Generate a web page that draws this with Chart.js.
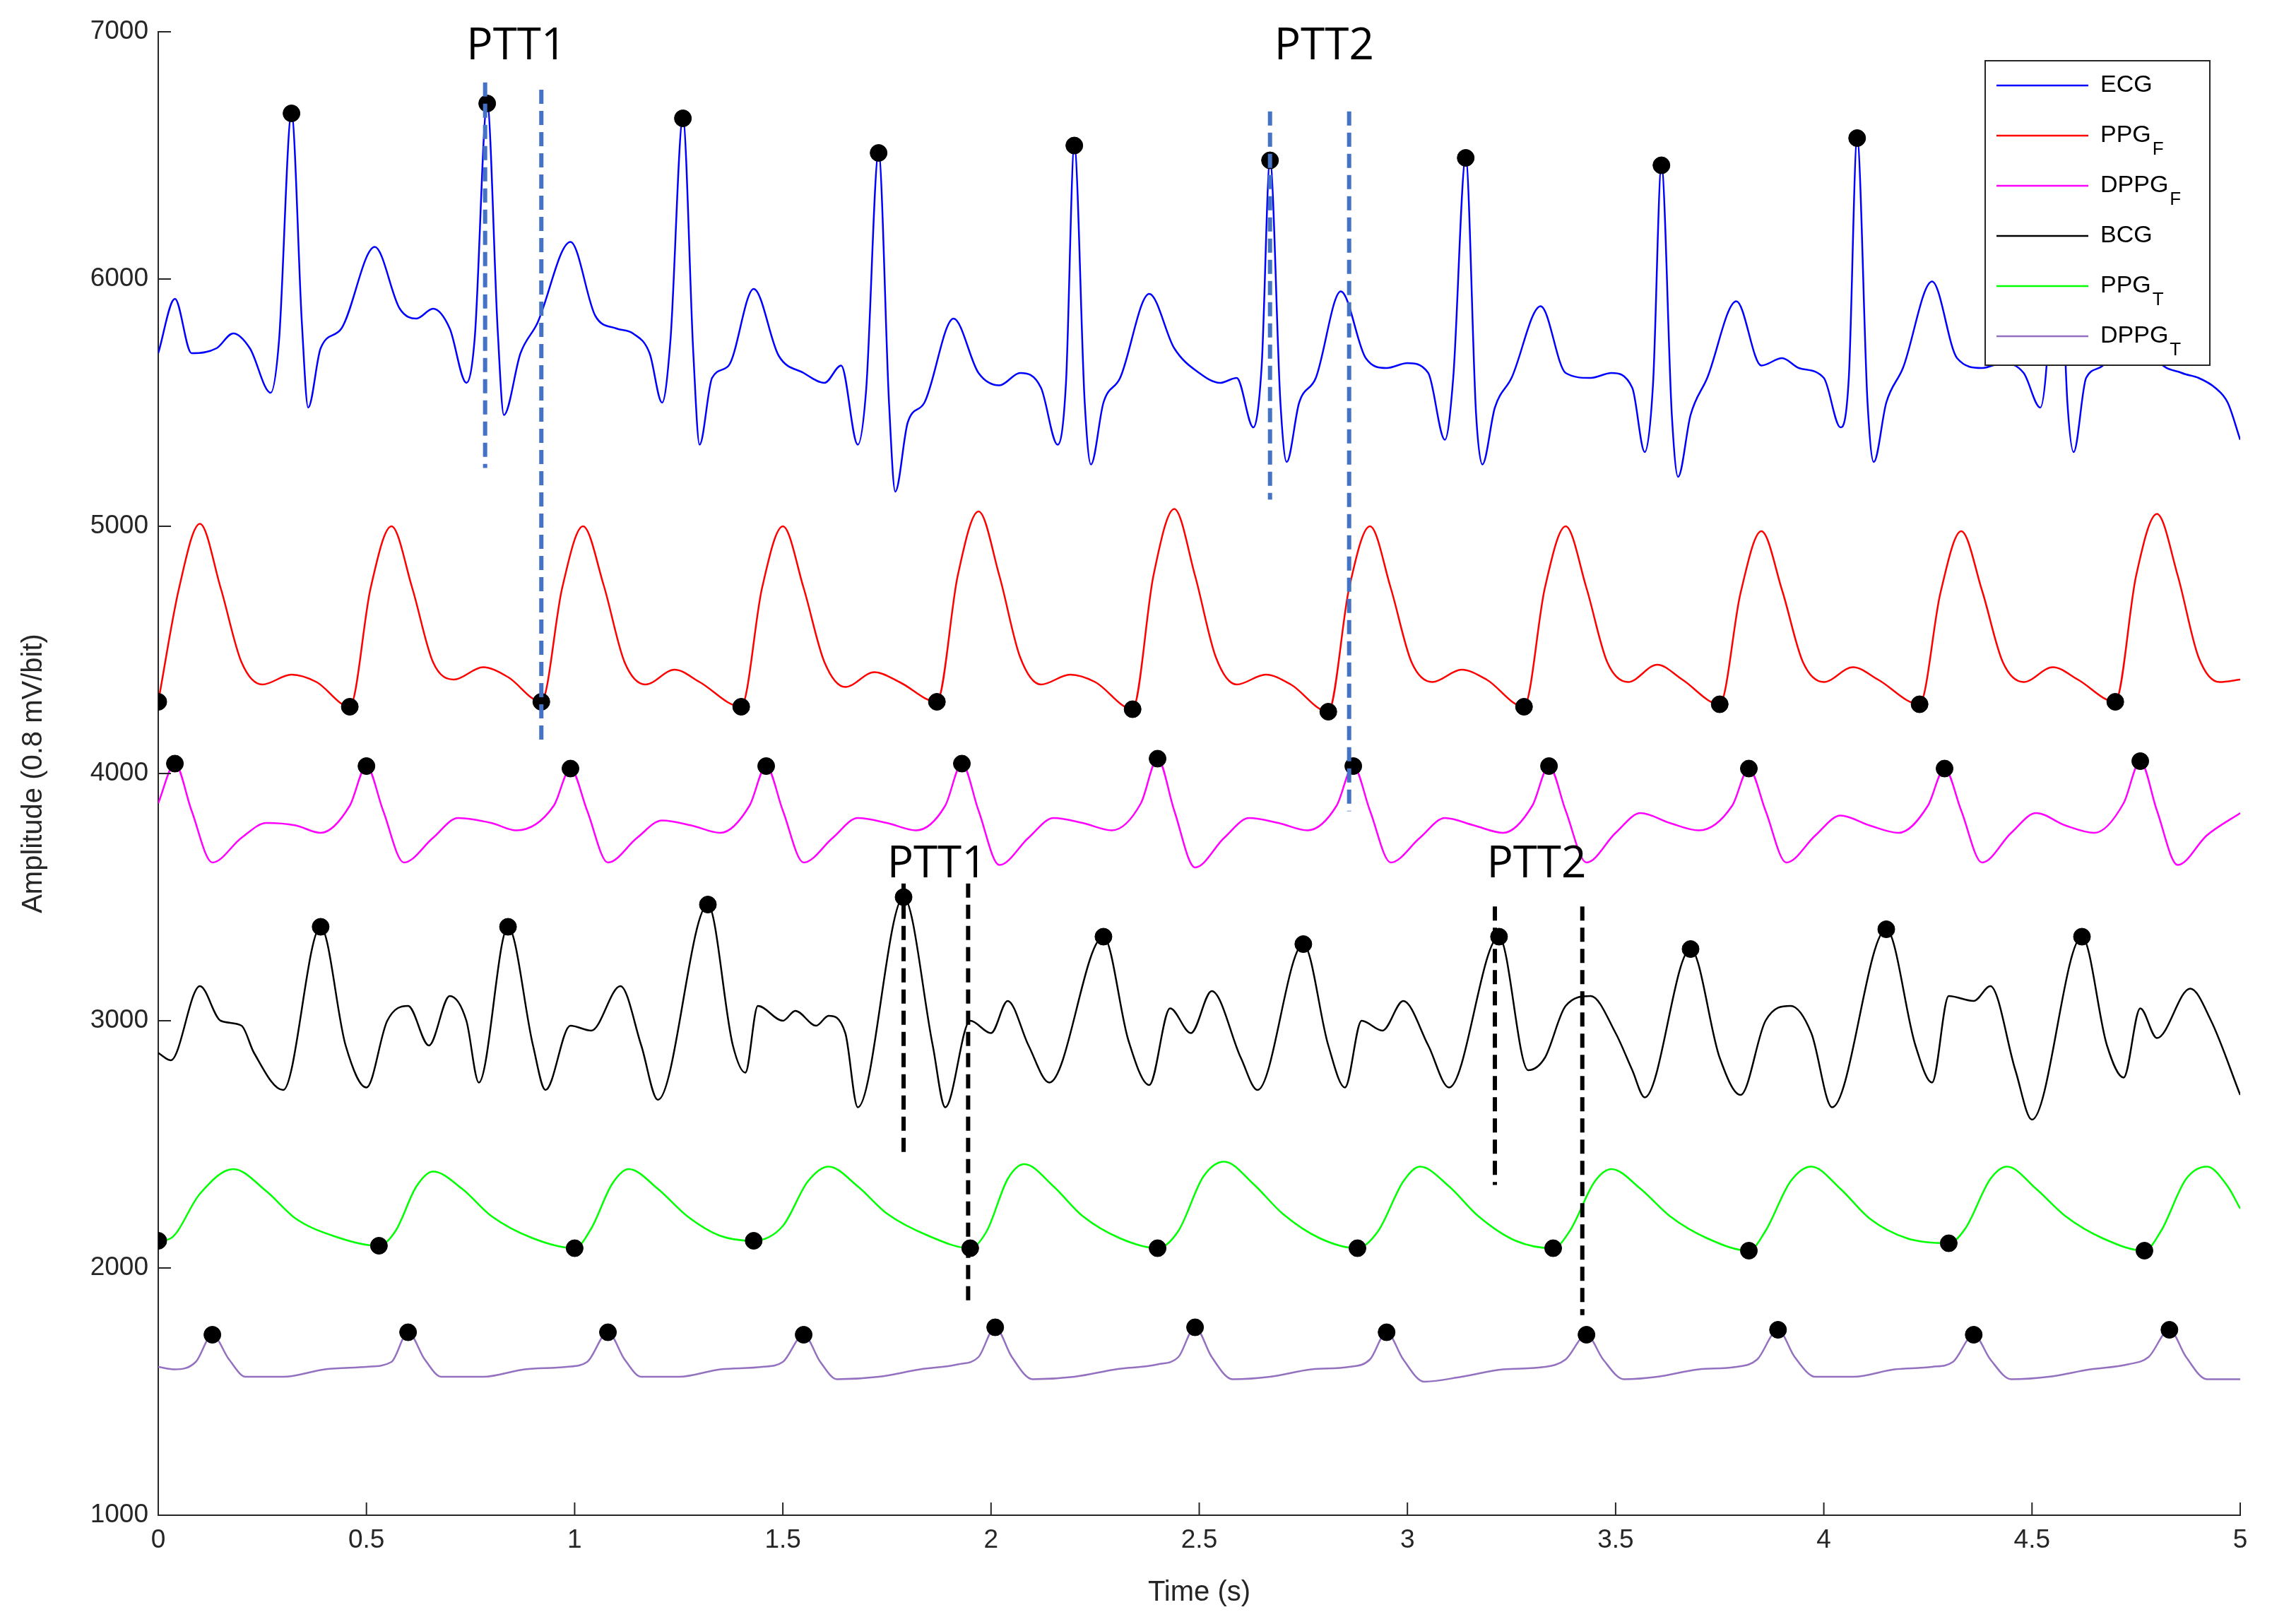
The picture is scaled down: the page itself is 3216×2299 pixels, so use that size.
<!DOCTYPE html>
<html><head><meta charset="utf-8">
<script src="https://cdn.jsdelivr.net/npm/chart.js@4/dist/chart.umd.min.js"></script>
<style>html,body{margin:0;padding:0;background:#fff}canvas{display:block}</style>
</head><body>
<canvas id="c" width="3216" height="2299"></canvas>
<script>
const xTicks=[0,0.5,1,1.5,2,2.5,3,3.5,4,4.5,5];
const xTickLabels=["0","0.5","1","1.5","2","2.5","3","3.5","4","4.5","5"];
const yTicks=[1000,2000,3000,4000,5000,6000,7000];
const yTickLabels=["1000","2000","3000","4000","5000","6000","7000"];
const ecg=[[0,5700],[0.04,5920],[0.08,5700],[0.14,5720],[0.18,5780],[0.22,5720],[0.27,5540],[0.29,5750],[0.32,6670],[0.345,5820],[0.36,5480],[0.39,5720],[0.44,5800],[0.52,6130],[0.58,5880],[0.62,5840],[0.66,5880],[0.70,5800],[0.74,5580],[0.76,5760],[0.79,6710],[0.815,5800],[0.83,5450],[0.87,5700],[0.91,5820],[0.99,6150],[1.05,5850],[1.10,5800],[1.14,5780],[1.18,5700],[1.21,5500],[1.23,5750],[1.26,6650],[1.285,5700],[1.30,5330],[1.33,5600],[1.37,5650],[1.43,5960],[1.49,5690],[1.55,5620],[1.60,5580],[1.64,5650],[1.68,5330],[1.70,5550],[1.73,6510],[1.755,5500],[1.77,5140],[1.80,5420],[1.84,5500],[1.91,5840],[1.97,5620],[2.02,5570],[2.07,5620],[2.12,5560],[2.16,5330],[2.18,5580],[2.20,6540],[2.225,5500],[2.24,5250],[2.27,5500],[2.31,5600],[2.38,5940],[2.44,5720],[2.50,5620],[2.55,5580],[2.59,5600],[2.63,5400],[2.65,5650],[2.67,6480],[2.695,5500],[2.71,5260],[2.74,5500],[2.78,5600],[2.84,5950],[2.9,5680],[2.95,5640],[3.0,5660],[3.05,5620],[3.09,5350],[3.11,5600],[3.14,6490],[3.165,5450],[3.18,5250],[3.21,5480],[3.25,5600],[3.32,5890],[3.38,5620],[3.44,5600],[3.49,5620],[3.54,5560],[3.57,5300],[3.59,5580],[3.61,6460],[3.635,5450],[3.65,5200],[3.68,5450],[3.72,5600],[3.79,5910],[3.85,5650],[3.9,5680],[3.94,5640],[4.0,5600],[4.04,5400],[4.06,5600],[4.08,6570],[4.105,5500],[4.12,5260],[4.15,5500],[4.19,5640],[4.26,5990],[4.32,5680],[4.38,5640],[4.43,5660],[4.48,5620],[4.52,5480],[4.535,5650],[4.56,6450],[4.585,5500],[4.60,5300],[4.63,5600],[4.67,5650],[4.74,5950],[4.8,5680],[4.86,5620],[4.9,5600],[4.94,5560],[4.97,5500],[5.0,5350]];
const ecgDots=[[0.32,6670],[0.79,6710],[1.26,6650],[1.73,6510],[2.2,6540],[2.67,6480],[3.14,6490],[3.61,6460],[4.08,6570]];
const ppgF=[[0,4290],[0.05,4750],[0.1,5010],[0.15,4750],[0.2,4450],[0.25,4360],[0.32,4400],[0.38,4370],[0.46,4270],[0.51,4750],[0.56,5000],[0.61,4750],[0.66,4450],[0.71,4380],[0.78,4430],[0.84,4390],[0.92,4290],[0.97,4750],[1.02,5000],[1.07,4760],[1.12,4450],[1.17,4360],[1.24,4420],[1.30,4370],[1.40,4270],[1.45,4750],[1.50,5000],[1.55,4750],[1.60,4450],[1.65,4350],[1.72,4410],[1.78,4370],[1.87,4290],[1.92,4800],[1.97,5060],[2.02,4800],[2.07,4470],[2.12,4360],[2.19,4400],[2.25,4370],[2.34,4260],[2.39,4800],[2.44,5070],[2.49,4800],[2.54,4470],[2.59,4360],[2.66,4400],[2.72,4360],[2.81,4250],[2.86,4750],[2.91,5000],[2.96,4750],[3.01,4450],[3.06,4370],[3.13,4420],[3.19,4380],[3.28,4270],[3.33,4750],[3.38,5000],[3.43,4750],[3.48,4450],[3.53,4370],[3.60,4440],[3.66,4380],[3.75,4280],[3.80,4730],[3.85,4980],[3.90,4740],[3.95,4450],[4.0,4370],[4.07,4430],[4.13,4380],[4.23,4280],[4.28,4730],[4.33,4980],[4.38,4740],[4.43,4450],[4.48,4370],[4.55,4430],[4.61,4380],[4.70,4290],[4.75,4800],[4.80,5050],[4.85,4800],[4.90,4470],[4.95,4370],[5.0,4380]];
const ppgFDots=[[0,4290],[0.46,4270],[0.92,4290],[1.4,4270],[1.87,4290],[2.34,4260],[2.81,4250],[3.28,4270],[3.75,4280],[4.23,4280],[4.7,4290]];
const dppgF=[[0,3880],[0.04,4040],[0.08,3850],[0.13,3640],[0.2,3740],[0.26,3800],[0.33,3790],[0.39,3760],[0.46,3870],[0.5,4030],[0.54,3850],[0.59,3640],[0.66,3740],[0.72,3820],[0.8,3800],[0.86,3770],[0.95,3870],[0.99,4020],[1.03,3850],[1.08,3640],[1.15,3740],[1.21,3810],[1.28,3790],[1.35,3760],[1.42,3870],[1.46,4030],[1.5,3850],[1.55,3640],[1.62,3740],[1.68,3820],[1.75,3800],[1.82,3770],[1.89,3870],[1.93,4040],[1.97,3850],[2.02,3630],[2.09,3740],[2.15,3820],[2.22,3800],[2.29,3770],[2.36,3880],[2.4,4060],[2.44,3850],[2.49,3620],[2.56,3740],[2.62,3820],[2.69,3800],[2.76,3770],[2.83,3870],[2.87,4030],[2.91,3850],[2.96,3640],[3.03,3740],[3.09,3820],[3.16,3790],[3.23,3760],[3.3,3870],[3.34,4030],[3.38,3850],[3.43,3640],[3.5,3760],[3.56,3840],[3.63,3800],[3.7,3770],[3.78,3870],[3.82,4020],[3.86,3850],[3.91,3640],[3.98,3750],[4.04,3830],[4.11,3790],[4.18,3760],[4.25,3870],[4.29,4020],[4.33,3850],[4.38,3640],[4.45,3760],[4.51,3840],[4.58,3790],[4.65,3760],[4.72,3880],[4.76,4050],[4.8,3850],[4.85,3630],[4.92,3750],[5.0,3840]];
const dppgFDots=[[0.04,4040],[0.5,4030],[0.99,4020],[1.46,4030],[1.93,4040],[2.4,4060],[2.87,4030],[3.34,4030],[3.82,4020],[4.29,4020],[4.76,4050]];
const bcg=[[0,2870],[0.03,2840],[0.1,3140],[0.15,3000],[0.2,2980],[0.23,2870],[0.3,2720],[0.39,3380],[0.45,2900],[0.5,2730],[0.55,3000],[0.6,3060],[0.65,2900],[0.7,3100],[0.74,3000],[0.77,2750],[0.84,3380],[0.9,2900],[0.93,2720],[0.99,2980],[1.04,2960],[1.11,3140],[1.16,2900],[1.2,2680],[1.32,3470],[1.38,2900],[1.41,2790],[1.44,3060],[1.5,3000],[1.53,3040],[1.58,2980],[1.61,3020],[1.65,2950],[1.68,2650],[1.79,3500],[1.86,2900],[1.89,2650],[1.95,3000],[2.0,2950],[2.04,3080],[2.09,2900],[2.14,2750],[2.27,3340],[2.33,2920],[2.38,2740],[2.43,3050],[2.48,2950],[2.53,3120],[2.6,2850],[2.64,2720],[2.75,3310],[2.81,2900],[2.85,2730],[2.89,3000],[2.94,2960],[2.99,3080],[3.05,2900],[3.1,2730],[3.22,3340],[3.29,2800],[3.33,2850],[3.38,3060],[3.44,3100],[3.5,2950],[3.54,2800],[3.57,2690],[3.68,3290],[3.75,2850],[3.8,2700],[3.86,3000],[3.92,3060],[3.97,2950],[4.02,2650],[4.15,3370],[4.22,2900],[4.26,2750],[4.3,3100],[4.36,3080],[4.4,3140],[4.46,2800],[4.5,2600],[4.62,3340],[4.68,2900],[4.72,2770],[4.76,3050],[4.8,2930],[4.88,3130],[4.93,3000],[5.0,2700]];
const bcgDots=[[0.39,3380],[0.84,3380],[1.32,3470],[1.79,3500],[2.27,3340],[2.75,3310],[3.22,3340],[3.68,3290],[4.15,3370],[4.62,3340]];
const ppgT=[[0,2110],[0.03,2120],[0.1,2300],[0.18,2400],[0.26,2310],[0.33,2200],[0.42,2130],[0.53,2090],[0.57,2150],[0.62,2330],[0.66,2390],[0.73,2320],[0.8,2210],[0.9,2120],[1.0,2080],[1.04,2160],[1.09,2340],[1.13,2400],[1.2,2320],[1.27,2210],[1.35,2130],[1.43,2110],[1.5,2170],[1.56,2350],[1.61,2410],[1.68,2330],[1.75,2220],[1.85,2130],[1.95,2080],[1.99,2150],[2.04,2360],[2.08,2420],[2.15,2330],[2.22,2210],[2.31,2120],[2.4,2080],[2.45,2150],[2.51,2370],[2.56,2430],[2.63,2340],[2.7,2220],[2.79,2120],[2.88,2080],[2.93,2150],[2.99,2350],[3.03,2410],[3.1,2330],[3.17,2210],[3.26,2110],[3.35,2080],[3.39,2150],[3.45,2350],[3.49,2400],[3.56,2320],[3.63,2210],[3.72,2120],[3.82,2070],[3.86,2150],[3.92,2350],[3.97,2410],[4.04,2320],[4.11,2200],[4.2,2120],[4.3,2100],[4.34,2160],[4.4,2360],[4.44,2410],[4.51,2320],[4.58,2210],[4.67,2120],[4.77,2070],[4.81,2150],[4.87,2360],[4.92,2410],[4.97,2330],[5.0,2240]];
const ppgTDots=[[0,2110],[0.53,2090],[1.0,2080],[1.43,2110],[1.95,2080],[2.4,2080],[2.88,2080],[3.35,2080],[3.82,2070],[4.3,2100],[4.77,2070]];
const dppgT=[[0,1600],[0.04,1590],[0.09,1620],[0.13,1730],[0.17,1630],[0.21,1560],[0.3,1560],[0.4,1590],[0.5,1600],[0.56,1620],[0.6,1740],[0.64,1630],[0.68,1560],[0.78,1560],[0.88,1590],[0.98,1600],[1.03,1620],[1.08,1740],[1.12,1630],[1.16,1560],[1.25,1560],[1.35,1590],[1.45,1600],[1.5,1620],[1.55,1730],[1.59,1620],[1.63,1550],[1.73,1560],[1.83,1590],[1.92,1610],[1.97,1640],[2.01,1760],[2.05,1640],[2.1,1550],[2.2,1560],[2.3,1590],[2.4,1610],[2.45,1640],[2.49,1760],[2.53,1640],[2.58,1550],[2.67,1560],[2.77,1590],[2.86,1600],[2.91,1630],[2.95,1740],[2.99,1630],[3.04,1540],[3.13,1560],[3.23,1590],[3.33,1600],[3.38,1630],[3.43,1730],[3.47,1630],[3.52,1550],[3.6,1560],[3.7,1590],[3.79,1600],[3.84,1630],[3.89,1750],[3.93,1640],[3.98,1560],[4.07,1560],[4.17,1590],[4.26,1600],[4.31,1620],[4.36,1730],[4.4,1630],[4.45,1550],[4.54,1560],[4.64,1590],[4.73,1610],[4.78,1640],[4.83,1750],[4.87,1640],[4.92,1550],[5.0,1550]];
const dppgTDots=[[0.13,1730],[0.6,1740],[1.08,1740],[1.55,1730],[2.01,1760],[2.49,1760],[2.95,1740],[3.43,1730],[3.89,1750],[4.36,1730],[4.83,1750]];
const legendNames=[["ECG",""],["PPG","F"],["DPPG","F"],["BCG",""],["PPG","T"],["DPPG","T"]];
const colors=["#0000ff","#ff0000","#ff00ff","#000000","#00ff00","#9370c0"];
const pttBlue=[[0.785,6795,5236],[0.92,6766,4117],[2.67,6678,5108],[2.86,6678,3847]];
const pttBlack=[[1.79,3555,2442],[1.945,3555,1856],[3.21,3462,2336],[3.42,3462,1809]];
const pttLabels=[["PTT1",0.86,6960],["PTT2",2.8,6960],["PTT1",1.87,3650],["PTT2",3.31,3650]];

const toXY=a=>a.map(p=>({x:p[0],y:p[1]}));
const lines=[ecg,ppgF,dppgF,bcg,ppgT,dppgT];
const dots=[ecgDots,ppgFDots,dppgFDots,bcgDots,ppgTDots,dppgTDots];
const datasets=[];
lines.forEach((l,i)=>datasets.push({data:toXY(l),borderColor:colors[i],borderWidth:2.5,pointRadius:0,cubicInterpolationMode:'monotone',fill:false,order:2}));
dots.forEach(d=>datasets.push({data:toXY(d),showLine:false,pointRadius:12,pointBackgroundColor:'#000',pointBorderColor:'#000',order:1}));

const overlay={id:'overlay',afterDatasetsDraw(ch){
  const c=ch.ctx,x=ch.scales.x,y=ch.scales.y;
  c.save();c.lineWidth=6;c.setLineDash([20,10]);
  c.strokeStyle='#4472c4';
  pttBlue.forEach(l=>{c.beginPath();c.moveTo(x.getPixelForValue(l[0]),y.getPixelForValue(l[1]));c.lineTo(x.getPixelForValue(l[0]),y.getPixelForValue(l[2]));c.stroke();});
  c.strokeStyle='#000';
  pttBlack.forEach(l=>{c.beginPath();c.moveTo(x.getPixelForValue(l[0]),y.getPixelForValue(l[1]));c.lineTo(x.getPixelForValue(l[0]),y.getPixelForValue(l[2]));c.stroke();});
  c.setLineDash([]);
  c.fillStyle='#000';c.font='62px "Open Sans"';c.textAlign='center';c.textBaseline='bottom';
  pttLabels.forEach(l=>c.fillText(l[0],x.getPixelForValue(l[1]),y.getPixelForValue(l[2])+38));
  // inward tick marks
  c.strokeStyle='#262626';c.lineWidth=2;
  xTicks.forEach(v=>{const px=x.getPixelForValue(v);c.beginPath();c.moveTo(px,y.bottom);c.lineTo(px,y.bottom-18);c.stroke();});
  yTicks.forEach(v=>{const py=y.getPixelForValue(v);c.beginPath();c.moveTo(x.left,py);c.lineTo(x.left+18,py);c.stroke();});
  // legend
  const L=2810,T=86,W=318,H=431;
  c.fillStyle='#fff';c.fillRect(L,T,W,H);
  c.strokeStyle='#262626';c.lineWidth=2;c.strokeRect(L,T,W,H);
  legendNames.forEach((n,i)=>{
    const yy=T+35+i*71;
    c.strokeStyle=colors[i];c.lineWidth=2.5;c.beginPath();c.moveTo(L+16,yy);c.lineTo(L+146,yy);c.stroke();
    c.fillStyle='#000';c.textAlign='left';c.textBaseline='middle';c.font='34px "Liberation Sans"';
    c.fillText(n[0],L+163,yy);
    if(n[1]){const w=c.measureText(n[0]).width;c.font='26px "Liberation Sans"';c.fillText(n[1],L+165+w,yy+20);}
  });
  c.restore();
}};

new Chart(document.getElementById('c'),{type:'line',data:{datasets},plugins:[overlay],
options:{responsive:false,animation:false,devicePixelRatio:1,
layout:{padding:{left:20,right:45,top:45,bottom:0}},
plugins:{legend:{display:false},tooltip:{enabled:false}},
scales:{
 x:{type:'linear',min:0,max:5,afterBuildTicks:s=>{s.ticks=xTicks.map(v=>({value:v}));},
   afterFit:s=>{s.height=154;},
   grid:{display:false,drawTicks:false},border:{display:true,color:'#262626',width:2},
   ticks:{color:'#262626',font:{size:37,family:'"Liberation Sans"'},maxRotation:0,padding:14,callback:(v)=>xTickLabels[xTicks.indexOf(v)]},
   title:{display:true,text:'Time (s)',color:'#262626',font:{size:40,family:'"Liberation Sans"'},padding:{top:0,bottom:20}}},
 y:{min:1000,max:7000,afterBuildTicks:s=>{s.ticks=yTicks.map(v=>({value:v}));},
   afterFit:s=>{s.width=204;},
   grid:{display:false,drawTicks:false},border:{display:true,color:'#262626',width:2},
   ticks:{color:'#262626',font:{size:37,family:'"Liberation Sans"'},padding:14,callback:(v)=>yTickLabels[yTicks.indexOf(v)]},
   title:{display:true,text:'Amplitude (0.8 mV/bit)',color:'#262626',font:{size:40,family:'"Liberation Sans"'},padding:{bottom:0}}}
}}});
</script>
</body></html>
